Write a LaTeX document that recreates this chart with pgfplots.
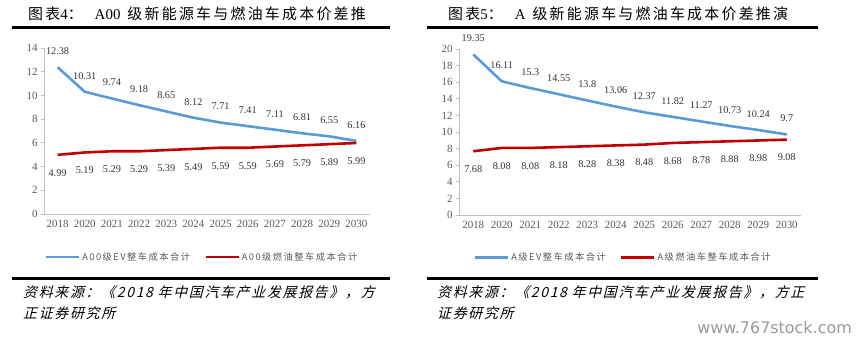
\documentclass[border=0pt]{standalone}
\usepackage{pgfplots}
\pgfplotsset{compat=1.18}
\usepackage{fontspec}
\setmainfont{Liberation Serif}
\newfontfamily\cjk{Noto Sans CJK SC}
\newfontfamily\cjktitle[LetterSpace=15]{Noto Sans CJK SC}
\newfontfamily\cjklegend[LetterSpace=16]{Noto Sans CJK SC}
\newfontfamily\cjksrc[FakeSlant=0.25,LetterSpace=12]{Noto Sans CJK SC}
\newfontfamily\wm{DejaVu Sans}

\definecolor{evblue}{RGB}{91,155,213}
\definecolor{icered}{RGB}{192,0,0}
\definecolor{axgray}{RGB}{191,191,191}
\definecolor{txtgray}{RGB}{89,89,89}
\definecolor{lblgray}{RGB}{50,50,50}

\pgfplotsset{
  mystyle/.style={
    scale only axis, height=166bp,
    axis x line=bottom, axis y line=left,
    axis line style={-, draw=axgray, line width=0.8bp},
    xmin=-0.5, xmax=11.5, ymin=0,
    xtick={0,...,11}, xticklabels={2018,2020,2021,2022,2023,2024,2025,2026,2027,2028,2029,2030},
    xtick style={draw=none},
    ytick style={draw=axgray, line width=0.8bp},
    tick align=outside, major tick length=3bp,
    tick label style={font=\fontsize{11}{12}\selectfont, text=txtgray},
    /pgf/number format/assume math mode=true,
    clip=false, point meta=y,
    legend style={draw=none, fill=none, legend columns=2, font=\cjklegend\fontsize{9.3}{10}\selectfont, text=txtgray, inner sep=0pt, nodes={inner xsep=2bp, inner ysep=1bp}, /tikz/every even column/.append style={column sep=12bp}},
    legend image code/.code={\draw[##1] (0bp,0bp) -- (33bp,0bp);},
  },
  evline/.style={evblue, line width=2.6bp, mark=none, nodes near coords,
    every node near coord/.append style={font=\fontsize{10.3}{12}\selectfont, text=lblgray, anchor=center, yshift=16bp}},
  iceline/.style={icered, line width=2.6bp, mark=none, nodes near coords,
    every node near coord/.append style={font=\fontsize{10.3}{12}\selectfont, text=lblgray, anchor=center, yshift=-18bp}},
}

\begin{document}
\begin{tikzpicture}[x=1bp,y=1bp]
\useasboundingbox (0,0) rectangle (863,344);

% titles
\node[anchor=west, inner sep=0pt, font=\fontsize{15}{16}\selectfont] at (28,330)
  {{\cjktitle 图表}4{\cjktitle ：}\hspace{12bp}A00\hspace{7bp}{\cjktitle 级新能源车与燃油车成本价差推}};
\node[anchor=west, inner sep=0pt, font=\fontsize{15}{16}\selectfont] at (448,330)
  {{\cjktitle 图表}5{\cjktitle ：}\hspace{12bp}A\hspace{7bp}{\cjktitle 级新能源车与燃油车成本价差推演}};

% rules
\draw[line width=3bp] (12,316) -- (390,316);
\draw[line width=3bp] (427,316) -- (818,316);
\draw[line width=3bp] (12,66) -- (390,66);
\draw[line width=3bp] (427,66) -- (818,66);

% left chart
\begin{axis}[mystyle, at={(44bp,130bp)}, anchor=south west, width=326bp,
  ymax=14, ytick={0,2,...,14},
  legend style={at={(0.485,-0.26)}, anchor=center}]
\addplot[evline] coordinates {(0,12.38) (1,10.31) (2,9.74) (3,9.18) (4,8.65) (5,8.12) (6,7.71) (7,7.41) (8,7.11) (9,6.81) (10,6.55) (11,6.16)};
\addlegendentry{A00级EV整车成本合计}
\addplot[iceline] coordinates {(0,4.99) (1,5.19) (2,5.29) (3,5.29) (4,5.39) (5,5.49) (6,5.59) (7,5.59) (8,5.69) (9,5.79) (10,5.89) (11,5.99)};
\addlegendentry{A00级燃油整车成本合计}
\end{axis}

% right chart
\begin{axis}[mystyle, at={(459bp,129bp)}, anchor=south west, width=342bp,
  ymax=20, ytick={0,2,...,20},
  legend style={at={(0.48,-0.255)}, anchor=center}]
\addplot[evline] coordinates {(0,19.35) (1,16.11) (2,15.3) (3,14.55) (4,13.8) (5,13.06) (6,12.37) (7,11.82) (8,11.27) (9,10.73) (10,10.24) (11,9.7)};
\addlegendentry{A级EV整车成本合计}
\addplot[iceline] coordinates {(0,7.68) (1,8.08) (2,8.08) (3,8.18) (4,8.28) (5,8.38) (6,8.48) (7,8.68) (8,8.78) (9,8.88) (10,8.98) (11,9.08)};
\addlegendentry{A级燃油车整车成本合计}
\end{axis}

% sources
\node[anchor=west, inner sep=0pt, font=\cjksrc\fontsize{14}{16}\selectfont] at (23,52) {资料来源：《2018 年中国汽车产业发展报告》，方};
\node[anchor=west, inner sep=0pt, font=\cjksrc\fontsize{14}{16}\selectfont] at (23,31) {正证券研究所};
\node[anchor=west, inner sep=0pt, font=\cjksrc\fontsize{14}{16}\selectfont] at (437,52) {资料来源：《2018 年中国汽车产业发展报告》，方正};
\node[anchor=west, inner sep=0pt, font=\cjksrc\fontsize{14}{16}\selectfont] at (437,31) {证券研究所};

% watermark
\node[anchor=east, inner sep=0pt, font=\wm\fontsize{16}{18}\selectfont, text=black!40] at (852,16) {www.767stock.com};
\end{tikzpicture}
\end{document}
